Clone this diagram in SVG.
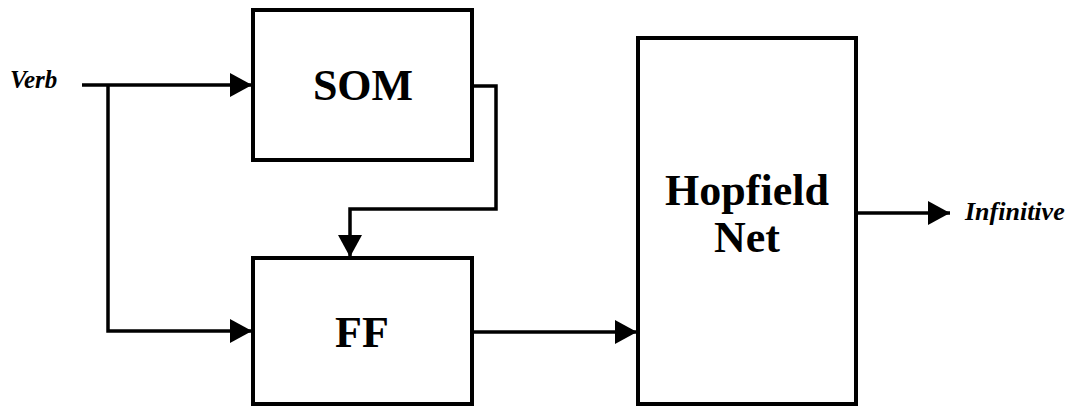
<svg xmlns="http://www.w3.org/2000/svg" width="1074" height="407" viewBox="0 0 1074 407">
<style>
.box{fill:#fff;stroke:#000;stroke-width:4}
.lbl{font-family:"Liberation Serif","Times New Roman",serif;font-weight:bold;font-size:44px;text-anchor:middle;fill:#000}
.io{font-family:"Liberation Serif","Times New Roman",serif;font-weight:bold;font-style:italic;fill:#000}
.conn{fill:none;stroke:#000;stroke-width:3.5;stroke-linejoin:miter}
</style>
<defs>
<marker id="arr" markerUnits="userSpaceOnUse" markerWidth="24" markerHeight="26" refX="22" refY="12" orient="auto">
<path d="M0,0 L22,12 L0,24 Z" fill="#000"/>
</marker>
</defs>
<rect width="1074" height="407" fill="#fff"/>
<g id="connectors">
<path class="conn" d="M82,85 H252" marker-end="url(#arr)"/>
<path class="conn" d="M108,85 V331 H252" marker-end="url(#arr)"/>
<path class="conn" d="M472,86 H496 V209 H350 V257" marker-end="url(#arr)"/>
<path class="conn" d="M473,332 H637" marker-end="url(#arr)"/>
<path class="conn" d="M856,213 H950" marker-end="url(#arr)"/>
</g>
<g id="verb"><text class="io" x="10" y="88" font-size="25">Verb</text></g>
<g id="som">
<rect class="box" x="253" y="10" width="219" height="150"/>
<text class="lbl" x="363" y="100">SOM</text>
</g>
<g id="ff">
<rect class="box" x="253" y="258" width="219" height="146"/>
<text class="lbl" x="362" y="347">FF</text>
</g>
<g id="hopfield">
<rect class="box" x="638" y="38" width="218" height="366"/>
<text class="lbl" x="747" y="205" font-size="43">Hopfield</text>
<text class="lbl" x="747" y="252" font-size="43">Net</text>
</g>
<g id="infinitive"><text class="io" x="965" y="220" font-size="26">Infinitive</text></g>
</svg>
